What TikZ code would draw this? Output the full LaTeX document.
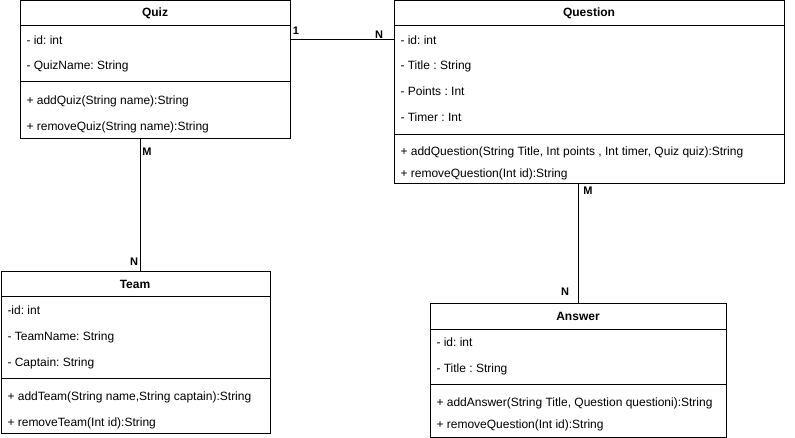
\documentclass[tikz,border=0pt]{standalone}
\usepackage{fontspec}
\setmainfont{Liberation Sans}
\usetikzlibrary{positioning}
\frenchspacing

\begin{document}
\begin{tikzpicture}[x=1pt,y=-1pt,line width=1pt,
  class node/.style={draw,rectangle,anchor=north west,inner sep=0pt},
  title node/.style={inner sep=0pt,font=\fontsize{12}{14}\selectfont\bfseries},
  member node/.style={anchor=base west,inner sep=0pt,font=\fontsize{12}{14}\selectfont},
  mult node/.style={inner sep=0pt,font=\fontsize{11}{13}\selectfont\bfseries}]
\useasboundingbox (0,0) rectangle (795,438);
%------------------------------------------------------------------------
% The classes
%------------------------------------------------------------------------
\node[class node,minimum width=270pt,minimum height=138pt] (quiz) at (20,0) {};
\node[class node,minimum width=390pt,minimum height=183pt] (question) at (394,0) {};
\node[class node,minimum width=269pt,minimum height=162pt] (team) at (1,271) {};
\node[class node,minimum width=296pt,minimum height=134pt] (answer) at (430,303) {};
% title bars and dividers
\draw ([yshift=-26pt]quiz.north west) -- ([yshift=-26pt]quiz.north east);
\draw ([yshift=-82pt]quiz.north west) -- ([yshift=-82pt]quiz.north east);
\draw ([yshift=-26pt]question.north west) -- ([yshift=-26pt]question.north east);
\draw ([yshift=-135pt]question.north west) -- ([yshift=-135pt]question.north east);
\draw ([yshift=-26pt]team.north west) -- ([yshift=-26pt]team.north east);
\draw ([yshift=-107pt]team.north west) -- ([yshift=-107pt]team.north east);
\draw ([yshift=-26pt]answer.north west) -- ([yshift=-26pt]answer.north east);
\draw ([yshift=-81pt]answer.north west) -- ([yshift=-81pt]answer.north east);
%------------------------------------------------------------------------
% The texts
%------------------------------------------------------------------------
\node[title node] (quizT) at (155,13) {Quiz};
\node[member node] (quizA) at (26,45) {- id: int};
\node[member node] (quizB) at (26,70) {- QuizName: String};
\node[member node] (quizC) at (26,105) {+ addQuiz(String name):String};
\node[member node] (quizD) at (26,131) {+ removeQuiz(String name):String};

\node[title node] (questionT) at (589,13) {Question};
\node[member node] (questionA) at (400,45) {- id: int};
\node[member node] (questionB) at (400,70) {- Title : String};
\node[member node] (questionC) at (400,96) {- Points : Int};
\node[member node] (questionD) at (400,122) {- Timer : Int};
\node[member node] (questionE) at (400,156) {+ addQuestion(String Title, Int points , Int timer, Quiz quiz):String};
\node[member node] (questionF) at (400,178) {+ removeQuestion(Int id):String};

\node[title node] (teamT) at (135,284) {Team};
\node[member node] (teamA) at (7,315) {-id: int};
\node[member node] (teamB) at (7,341) {- TeamName: String};
\node[member node] (teamC) at (7,366) {- Captain: String};
\node[member node] (teamD) at (7,400) {+ addTeam(String name,String captain):String};
\node[member node] (teamE) at (7,426) {+ removeTeam(Int id):String};

\node[title node] (answerT) at (578,316) {Answer};
\node[member node] (answerA) at (436,346) {- id: int};
\node[member node] (answerB) at (436,372) {- Title : String};
\node[member node] (answerC) at (436,406) {+ addAnswer(String Title, Question questioni):String};
\node[member node] (answerD) at (436,428) {+ removeQuestion(Int id):String};
%------------------------------------------------------------------------
% The associations
%------------------------------------------------------------------------
\coordinate (qt) at (140,200);
\coordinate (qq) at (0,40);
\draw (quiz.east |- qq) -- (question.west |- qq);
\draw (quiz.south -| qt) -- (team.north -| qt);
\draw (question.south -| answer.north) -- (answer.north);
% multiplicities
\node[mult node] (m1) at (296,31) {1};
\node[mult node] (m2) at (379,35) {N};
\node[mult node] (m3) at (147,152) {M};
\node[mult node] (m4) at (134,262) {N};
\node[mult node] (m5) at (588,191) {M};
\node[mult node] (m6) at (565,292) {N};
\end{tikzpicture}
\end{document}
